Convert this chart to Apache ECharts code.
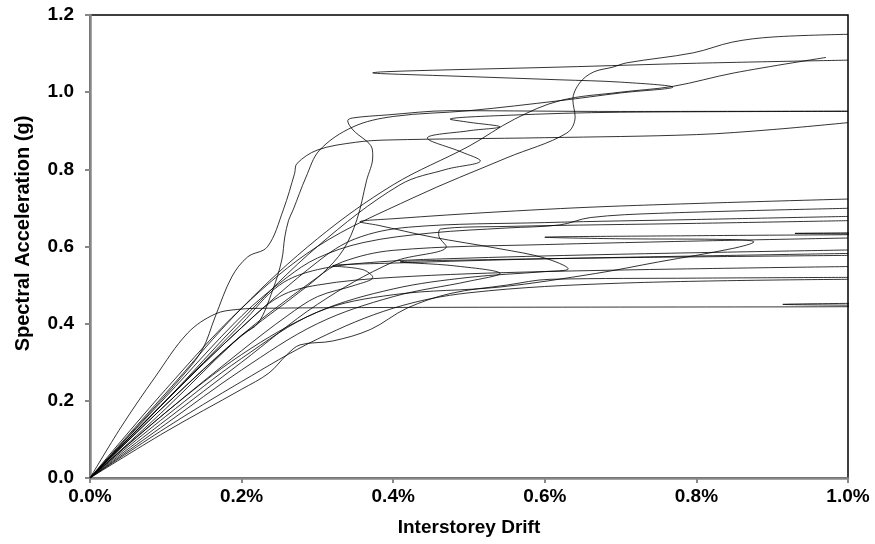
<!DOCTYPE html>
<html><head><meta charset="utf-8">
<script src="https://cdn.jsdelivr.net/npm/echarts@6/dist/echarts.min.js"></script>
<style>html,body{margin:0;padding:0;background:#fff}#c{width:875px;height:544px}</style>
</head><body><div id="c"></div>
<script>
// Tick labels
const xTicks = ['0.0%','0.2%','0.4%','0.6%','0.8%','1.0%'];
const yTicks = ['0.0','0.2','0.4','0.6','0.8','1.0','1.2'];
// Each IDA curve: [interstorey drift (%), spectral acceleration (g)]
const c01 = [[0,0],[0.1,0.23],[0.2,0.44],[0.3,0.6],[0.426,0.726],[0.55,0.83],[0.629,0.894],[0.64,0.936],[0.637,0.98],[0.646,1.024],[0.664,1.052],[0.69,1.065],[0.708,1.076],[0.796,1.102],[0.848,1.13],[0.901,1.143],[1.0,1.15]];
const c02 = [[0,0],[0.1,0.18],[0.189,0.35],[0.228,0.41],[0.268,0.469],[0.307,0.531],[0.334,0.591],[0.352,0.669],[0.365,0.772],[0.373,0.832],[0.372,0.855],[0.347,0.902],[0.340,0.926],[0.346,0.933],[0.392,0.941],[0.475,0.952],[0.7,0.95],[1.0,0.951]];
const c03 = [[0,0],[0.1,0.22],[0.2,0.44],[0.3,0.62],[0.4,0.76],[0.5,0.86],[0.56,0.93],[0.62,0.978],[0.7,1.0],[0.769,1.015],[0.85,1.05],[0.971,1.09]];
const c04 = [[0,0],[0.1,0.2],[0.2,0.41],[0.3,0.6],[0.409,0.76],[0.47,0.8],[0.515,0.822],[0.49,0.845],[0.445,0.881],[0.5,0.9],[0.541,0.91],[0.5,0.922],[0.475,0.93],[0.55,0.94],[0.7,0.948],[1.0,0.95]];
const c05 = [[0,0],[0.1,0.19],[0.2,0.37],[0.222,0.402],[0.241,0.487],[0.253,0.565],[0.257,0.625],[0.262,0.668],[0.268,0.695],[0.285,0.78],[0.303,0.85],[0.347,0.91],[0.40,0.937],[0.5,0.952],[0.62,0.978],[0.7,0.998],[0.769,1.013],[0.7,1.026],[0.62,1.032],[0.475,1.042],[0.385,1.048],[0.373,1.05],[0.39,1.053],[0.475,1.058],[0.62,1.065],[0.8,1.075],[1.0,1.083]];
const c06 = [[0,0],[0.07,0.15],[0.12,0.26],[0.148,0.332],[0.165,0.417],[0.187,0.521],[0.208,0.573],[0.234,0.599],[0.255,0.695],[0.27,0.79],[0.273,0.815],[0.3,0.85],[0.35,0.87],[0.392,0.876],[0.6,0.882],[0.8,0.89],[0.9,0.903],[1.0,0.921]];
const c07 = [[0,0],[0.041,0.132],[0.086,0.262],[0.129,0.376],[0.165,0.425],[0.195,0.437],[0.235,0.44],[0.4,0.442],[0.7,0.443],[1.0,0.444],[1.08,0.446],[0.914,0.45],[1.08,0.454]];
const c08 = [[0,0],[0.1,0.17],[0.2,0.32],[0.3,0.43],[0.4,0.49],[0.5,0.52],[0.6,0.535],[0.631,0.542],[0.6,0.57],[0.541,0.594],[0.45,0.625],[0.38,0.655],[0.356,0.664],[0.4,0.672],[0.541,0.69],[0.7,0.705],[1.0,0.723]];
const c09 = [[0,0],[0.1,0.21],[0.2,0.42],[0.26,0.52],[0.3,0.57],[0.36,0.61],[0.45,0.635],[0.55,0.648],[0.62,0.656],[0.66,0.675],[0.75,0.686],[1.0,0.699]];
const c10 = [[0,0],[0.1,0.2],[0.2,0.39],[0.3,0.56],[0.35,0.62],[0.42,0.65],[0.6,0.662],[0.8,0.67],[1.0,0.678]];
const c11 = [[0,0],[0.1,0.15],[0.2,0.3],[0.3,0.45],[0.4,0.56],[0.47,0.6],[0.46,0.63],[0.462,0.645],[0.55,0.652],[0.8,0.66],[1.0,0.667]];
const c12 = [[0,0],[0.1,0.16],[0.2,0.31],[0.3,0.43],[0.4,0.475],[0.541,0.495],[0.667,0.53],[0.75,0.56],[0.848,0.595],[0.876,0.612],[0.848,0.618],[0.7,0.62],[0.6,0.624],[0.8,0.628],[1.05,0.632],[0.93,0.634],[1.05,0.636]];
const c13 = [[0,0],[0.1,0.19],[0.2,0.37],[0.3,0.52],[0.333,0.56],[0.4,0.59],[0.6,0.605],[1.0,0.622]];
const c14 = [[0,0],[0.1,0.2],[0.2,0.4],[0.25,0.5],[0.3,0.54],[0.38,0.56],[0.5,0.57],[0.7,0.58],[1.0,0.591]];
const c15 = [[0,0],[0.1,0.17],[0.2,0.33],[0.26,0.42],[0.3,0.47],[0.35,0.5],[0.373,0.52],[0.36,0.54],[0.32,0.55],[0.4,0.557],[0.6,0.568],[1.0,0.582]];
const c16 = [[0,0],[0.1,0.14],[0.2,0.28],[0.3,0.4],[0.4,0.47],[0.5,0.51],[0.541,0.53],[0.48,0.55],[0.409,0.56],[0.5,0.565],[0.7,0.571],[1.0,0.577]];
const c17 = [[0,0],[0.1,0.2],[0.2,0.39],[0.25,0.47],[0.3,0.5],[0.4,0.52],[0.6,0.535],[1.0,0.548]];
const c18 = [[0,0],[0.1,0.12],[0.2,0.23],[0.236,0.272],[0.26,0.32],[0.277,0.345],[0.32,0.355],[0.37,0.385],[0.418,0.44],[0.475,0.478],[0.55,0.5],[0.607,0.515],[0.8,0.518],[1.0,0.52]];
const c19 = [[0,0],[0.1,0.13],[0.2,0.25],[0.3,0.36],[0.4,0.44],[0.5,0.48],[0.7,0.505],[1.0,0.515]];
const curves = [c01,c02,c03,c04,c05,c06,c07,c08,c09,c10,c11,c12,c13,c14,c15,c16,c17,c18,c19];

const font = '"Liberation Sans", Arial, sans-serif';
const chart = echarts.init(document.getElementById('c'), null, {renderer:'canvas'});
chart.setOption({
  animation:false,
  grid:{left:90,right:27,top:15,bottom:66,show:true,borderColor:'#000',borderWidth:1.5,backgroundColor:'#fff'},
  xAxis:{type:'value',min:0,max:1.0,interval:0.2,
    name:'Interstorey Drift',nameLocation:'middle',nameGap:40,
    nameTextStyle:{fontFamily:font,fontWeight:'bold',fontSize:19,color:'#000'},
    axisLine:{show:true,onZero:false,lineStyle:{color:'#888',width:2.5}},
    axisTick:{show:true,length:5,lineStyle:{color:'#888',width:2}},
    axisLabel:{fontFamily:font,fontWeight:'bold',fontSize:19,color:'#000',margin:9,
      formatter:function(v){return xTicks[Math.round(v/0.2)];}},
    splitLine:{show:false}},
  yAxis:{type:'value',min:0,max:1.2,interval:0.2,
    name:'Spectral Acceleration (g)',nameLocation:'middle',nameGap:57,nameRotate:90,
    nameTextStyle:{fontFamily:font,fontWeight:'bold',fontSize:20,color:'#000',padding:[0,0,0,26]},
    axisLine:{show:true,onZero:false,lineStyle:{color:'#888',width:2.5}},
    axisTick:{show:true,length:5,lineStyle:{color:'#888',width:2}},
    axisLabel:{fontFamily:font,fontWeight:'bold',fontSize:19,color:'#000',margin:16,
      formatter:function(v){return yTicks[Math.round(v/0.2)];}},
    splitLine:{show:false}},
  series: curves.map(function(d){return {type:'line',data:d,smooth:0.35,showSymbol:false,symbol:'none',clip:true,
    lineStyle:{color:'#000',width:0.8}};})
});
</script></body></html>
